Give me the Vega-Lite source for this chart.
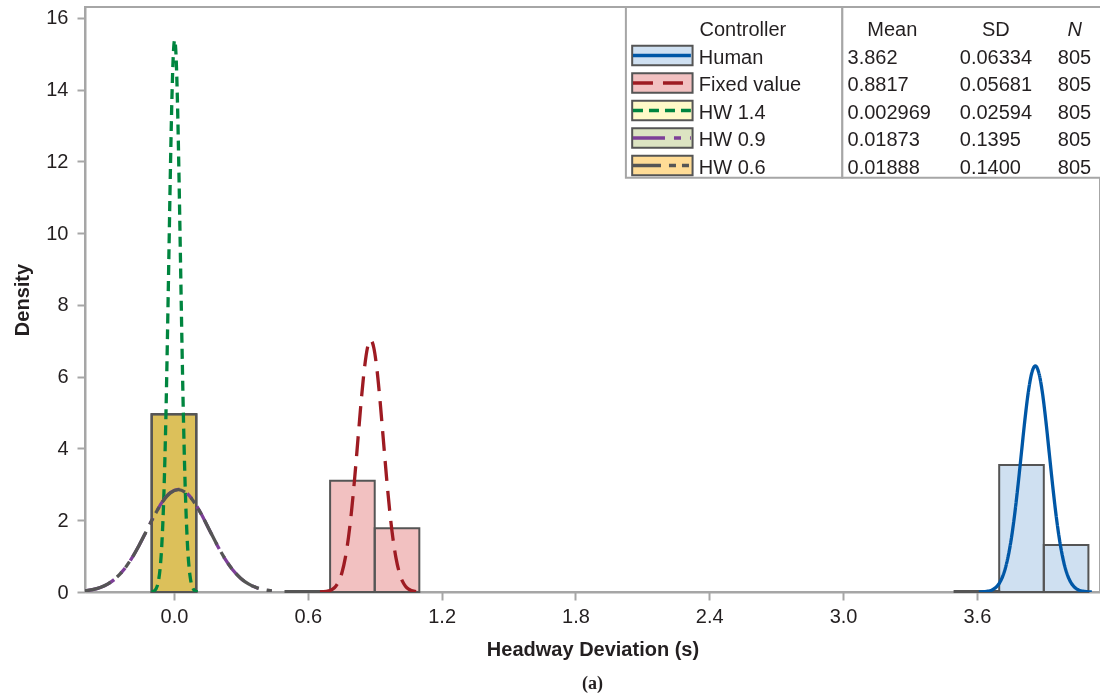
{
  "$schema": "https://vega.github.io/schema/vega-lite/v6.json",
  "width": 1015,
  "height": 585,
  "autosize": "none",
  "padding": {"left": 85, "top": 7, "right": 0, "bottom": 106},
  "title": {"text": "(a)", "orient": "bottom", "font": "Liberation Serif", "fontSize": 18, "fontWeight": "bold", "color": "#231f20", "offset": 16},
  "datasets": {
    "bars": [
      {"series": "Human", "x0": 3.5, "x1": 3.7, "density": 0.03},
      {"series": "Human", "x0": 3.7, "x1": 3.9, "density": 3.54},
      {"series": "Human", "x0": 3.9, "x1": 4.1, "density": 1.31},
      {"series": "Fixed value", "x0": 0.5, "x1": 0.7, "density": 0.03},
      {"series": "Fixed value", "x0": 0.7, "x1": 0.9, "density": 3.1},
      {"series": "Fixed value", "x0": 0.9, "x1": 1.1, "density": 1.775},
      {"series": "HW 1.4", "x0": -0.1, "x1": 0.1, "density": 4.95},
      {"series": "HW 0.9", "x0": -0.1, "x1": 0.1, "density": 4.95},
      {"series": "HW 0.6", "x0": -0.1, "x1": 0.1, "density": 4.95}
    ],
    "stats": [
      {"series": "Human", "mean": "3.862", "sd": "0.06334", "n": "805"},
      {"series": "Fixed value", "mean": "0.8817", "sd": "0.05681", "n": "805"},
      {"series": "HW 1.4", "mean": "0.002969", "sd": "0.02594", "n": "805"},
      {"series": "HW 0.9", "mean": "0.01873", "sd": "0.1395", "n": "805"},
      {"series": "HW 0.6", "mean": "0.01888", "sd": "0.1400", "n": "805"}
    ],
    "curves": [
      {"series": "Human", "x": 3.6086, "density": 0.002},
      {"series": "Human", "x": 3.6403, "density": 0.014},
      {"series": "Human", "x": 3.672, "density": 0.07},
      {"series": "Human", "x": 3.6878, "density": 0.144},
      {"series": "Human", "x": 3.7037, "density": 0.277},
      {"series": "Human", "x": 3.7195, "density": 0.501},
      {"series": "Human", "x": 3.7353, "density": 0.852},
      {"series": "Human", "x": 3.7512, "density": 1.362},
      {"series": "Human", "x": 3.767, "density": 2.045},
      {"series": "Human", "x": 3.7828, "density": 2.884},
      {"series": "Human", "x": 3.7987, "density": 3.82},
      {"series": "Human", "x": 3.8145, "density": 4.754},
      {"series": "Human", "x": 3.8303, "density": 5.558},
      {"series": "Human", "x": 3.8462, "density": 6.105},
      {"series": "Human", "x": 3.862, "density": 6.298},
      {"series": "Human", "x": 3.8778, "density": 6.105},
      {"series": "Human", "x": 3.8937, "density": 5.558},
      {"series": "Human", "x": 3.9095, "density": 4.754},
      {"series": "Human", "x": 3.9253, "density": 3.82},
      {"series": "Human", "x": 3.9412, "density": 2.884},
      {"series": "Human", "x": 3.957, "density": 2.045},
      {"series": "Human", "x": 3.9729, "density": 1.362},
      {"series": "Human", "x": 3.9887, "density": 0.852},
      {"series": "Human", "x": 4.0045, "density": 0.501},
      {"series": "Human", "x": 4.0204, "density": 0.277},
      {"series": "Human", "x": 4.0362, "density": 0.144},
      {"series": "Human", "x": 4.052, "density": 0.07},
      {"series": "Human", "x": 4.0837, "density": 0.014},
      {"series": "Human", "x": 4.1153, "density": 0.002},
      {"series": "Fixed value", "x": 0.6545, "density": 0.002},
      {"series": "Fixed value", "x": 0.6829, "density": 0.015},
      {"series": "Fixed value", "x": 0.7113, "density": 0.078},
      {"series": "Fixed value", "x": 0.7255, "density": 0.16},
      {"series": "Fixed value", "x": 0.7397, "density": 0.309},
      {"series": "Fixed value", "x": 0.7539, "density": 0.559},
      {"series": "Fixed value", "x": 0.7681, "density": 0.95},
      {"series": "Fixed value", "x": 0.7823, "density": 1.519},
      {"series": "Fixed value", "x": 0.7965, "density": 2.28},
      {"series": "Fixed value", "x": 0.8107, "density": 3.215},
      {"series": "Fixed value", "x": 0.8249, "density": 4.259},
      {"series": "Fixed value", "x": 0.8391, "density": 5.301},
      {"series": "Fixed value", "x": 0.8533, "density": 6.197},
      {"series": "Fixed value", "x": 0.8675, "density": 6.806},
      {"series": "Fixed value", "x": 0.8817, "density": 7.022},
      {"series": "Fixed value", "x": 0.8959, "density": 6.806},
      {"series": "Fixed value", "x": 0.9101, "density": 6.197},
      {"series": "Fixed value", "x": 0.9243, "density": 5.301},
      {"series": "Fixed value", "x": 0.9385, "density": 4.259},
      {"series": "Fixed value", "x": 0.9527, "density": 3.215},
      {"series": "Fixed value", "x": 0.9669, "density": 2.28},
      {"series": "Fixed value", "x": 0.9811, "density": 1.519},
      {"series": "Fixed value", "x": 0.9953, "density": 0.95},
      {"series": "Fixed value", "x": 1.0095, "density": 0.559},
      {"series": "Fixed value", "x": 1.0237, "density": 0.309},
      {"series": "Fixed value", "x": 1.0379, "density": 0.16},
      {"series": "Fixed value", "x": 1.0521, "density": 0.078},
      {"series": "Fixed value", "x": 1.0805, "density": 0.015},
      {"series": "Fixed value", "x": 1.1089, "density": 0.002},
      {"series": "HW 1.4", "x": -0.1008, "density": 0.005},
      {"series": "HW 1.4", "x": -0.0878, "density": 0.034},
      {"series": "HW 1.4", "x": -0.0749, "density": 0.171},
      {"series": "HW 1.4", "x": -0.0684, "density": 0.35},
      {"series": "HW 1.4", "x": -0.0619, "density": 0.676},
      {"series": "HW 1.4", "x": -0.0554, "density": 1.224},
      {"series": "HW 1.4", "x": -0.0489, "density": 2.081},
      {"series": "HW 1.4", "x": -0.0424, "density": 3.326},
      {"series": "HW 1.4", "x": -0.0359, "density": 4.993},
      {"series": "HW 1.4", "x": -0.0295, "density": 7.041},
      {"series": "HW 1.4", "x": -0.023, "density": 9.328},
      {"series": "HW 1.4", "x": -0.0165, "density": 11.609},
      {"series": "HW 1.4", "x": -0.01, "density": 13.572},
      {"series": "HW 1.4", "x": -0.0035, "density": 14.906},
      {"series": "HW 1.4", "x": 0.003, "density": 15.379},
      {"series": "HW 1.4", "x": 0.0095, "density": 14.906},
      {"series": "HW 1.4", "x": 0.0159, "density": 13.572},
      {"series": "HW 1.4", "x": 0.0224, "density": 11.609},
      {"series": "HW 1.4", "x": 0.0289, "density": 9.328},
      {"series": "HW 1.4", "x": 0.0354, "density": 7.041},
      {"series": "HW 1.4", "x": 0.0419, "density": 4.993},
      {"series": "HW 1.4", "x": 0.0484, "density": 3.326},
      {"series": "HW 1.4", "x": 0.0549, "density": 2.081},
      {"series": "HW 1.4", "x": 0.0613, "density": 1.224},
      {"series": "HW 1.4", "x": 0.0678, "density": 0.676},
      {"series": "HW 1.4", "x": 0.0743, "density": 0.35},
      {"series": "HW 1.4", "x": 0.0808, "density": 0.171},
      {"series": "HW 1.4", "x": 0.0938, "density": 0.034},
      {"series": "HW 1.4", "x": 0.1067, "density": 0.005},
      {"series": "HW 0.9", "x": -0.3998, "density": 0.032},
      {"series": "HW 0.9", "x": -0.3649, "density": 0.065},
      {"series": "HW 0.9", "x": -0.33, "density": 0.126},
      {"series": "HW 0.9", "x": -0.2951, "density": 0.228},
      {"series": "HW 0.9", "x": -0.2603, "density": 0.387},
      {"series": "HW 0.9", "x": -0.2254, "density": 0.618},
      {"series": "HW 0.9", "x": -0.1905, "density": 0.928},
      {"series": "HW 0.9", "x": -0.1556, "density": 1.309},
      {"series": "HW 0.9", "x": -0.1208, "density": 1.735},
      {"series": "HW 0.9", "x": -0.0859, "density": 2.159},
      {"series": "HW 0.9", "x": -0.051, "density": 2.524},
      {"series": "HW 0.9", "x": -0.0161, "density": 2.772},
      {"series": "HW 0.9", "x": 0.0187, "density": 2.86},
      {"series": "HW 0.9", "x": 0.0536, "density": 2.772},
      {"series": "HW 0.9", "x": 0.0885, "density": 2.524},
      {"series": "HW 0.9", "x": 0.1234, "density": 2.159},
      {"series": "HW 0.9", "x": 0.1582, "density": 1.735},
      {"series": "HW 0.9", "x": 0.1931, "density": 1.309},
      {"series": "HW 0.9", "x": 0.228, "density": 0.928},
      {"series": "HW 0.9", "x": 0.2629, "density": 0.618},
      {"series": "HW 0.9", "x": 0.2977, "density": 0.387},
      {"series": "HW 0.9", "x": 0.3326, "density": 0.228},
      {"series": "HW 0.9", "x": 0.3675, "density": 0.126},
      {"series": "HW 0.9", "x": 0.4024, "density": 0.065},
      {"series": "HW 0.9", "x": 0.4372, "density": 0.032},
      {"series": "HW 0.6", "x": -0.4011, "density": 0.032},
      {"series": "HW 0.6", "x": -0.3661, "density": 0.065},
      {"series": "HW 0.6", "x": -0.3311, "density": 0.125},
      {"series": "HW 0.6", "x": -0.2961, "density": 0.227},
      {"series": "HW 0.6", "x": -0.2611, "density": 0.386},
      {"series": "HW 0.6", "x": -0.2261, "density": 0.616},
      {"series": "HW 0.6", "x": -0.1911, "density": 0.925},
      {"series": "HW 0.6", "x": -0.1561, "density": 1.305},
      {"series": "HW 0.6", "x": -0.1211, "density": 1.728},
      {"series": "HW 0.6", "x": -0.0861, "density": 2.151},
      {"series": "HW 0.6", "x": -0.0511, "density": 2.515},
      {"series": "HW 0.6", "x": -0.0161, "density": 2.762},
      {"series": "HW 0.6", "x": 0.0189, "density": 2.85},
      {"series": "HW 0.6", "x": 0.0539, "density": 2.762},
      {"series": "HW 0.6", "x": 0.0889, "density": 2.515},
      {"series": "HW 0.6", "x": 0.1239, "density": 2.151},
      {"series": "HW 0.6", "x": 0.1589, "density": 1.728},
      {"series": "HW 0.6", "x": 0.1939, "density": 1.305},
      {"series": "HW 0.6", "x": 0.2289, "density": 0.925},
      {"series": "HW 0.6", "x": 0.2639, "density": 0.616},
      {"series": "HW 0.6", "x": 0.2989, "density": 0.386},
      {"series": "HW 0.6", "x": 0.3339, "density": 0.227},
      {"series": "HW 0.6", "x": 0.3689, "density": 0.125},
      {"series": "HW 0.6", "x": 0.4039, "density": 0.065},
      {"series": "HW 0.6", "x": 0.4389, "density": 0.032}
    ]
  },
  "layer": [
    {
      "layer": [
        {
          "data": {"values": [{"box": "controller"}]},
          "mark": {"type": "rect", "fill": "white", "stroke": "#a6a6a6", "strokeWidth": 2},
          "encoding": {
            "x": {"datum": 2.0262, "type": "quantitative", "title": "Headway Deviation (s)"},
            "x2": {"datum": 2.9967},
            "y": {"datum": 11.54, "type": "quantitative", "title": "Density"},
            "y2": {"datum": 16.3}
          }
        },
        {
          "data": {"values": [{"box": "stats"}]},
          "mark": {"type": "rect", "fill": "white", "stroke": "#a6a6a6", "strokeWidth": 2},
          "encoding": {
            "x": {"datum": 2.9967, "type": "quantitative", "title": "Headway Deviation (s)"},
            "x2": {"datum": 4.2},
            "y": {"datum": 11.54, "type": "quantitative", "title": "Density"},
            "y2": {"datum": 16.3}
          }
        },
        {
          "data": {"name": "bars"},
          "mark": {"type": "rect", "blend": "multiply"},
          "encoding": {
            "x": {"field": "x0", "type": "quantitative", "title": "Headway Deviation (s)",
                  "scale": {"domain": [-0.399, 4.152], "nice": false, "zero": false},
                  "axis": {"values": [0, 0.6, 1.2, 1.8, 2.4, 3.0, 3.6], "format": ".1f"}},
            "x2": {"field": "x1"},
            "y": {"field": "density", "type": "quantitative", "title": "Density",
                  "scale": {"domain": [0, 16.3], "nice": false, "zero": false},
                  "axis": {"values": [0, 2, 4, 6, 8, 10, 12, 14, 16]}},
            "y2": {"datum": 0},
            "fill": {"field": "series", "type": "nominal", "legend": null,
                     "scale": {"domain": ["Human", "Fixed value", "HW 1.4", "HW 0.9", "HW 0.6"],
                               "range": ["#cfe0f1", "#f2c1c1", "#fffac8", "#dce4c2", "#ffdc96"]}}
          }
        },
        {
          "data": {"name": "bars"},
          "mark": {"type": "rect", "fillOpacity": 0, "stroke": "#555555", "strokeWidth": 2},
          "encoding": {
            "x": {"field": "x0", "type": "quantitative", "title": "Headway Deviation (s)"},
            "x2": {"field": "x1"},
            "y": {"field": "density", "type": "quantitative", "title": "Density"},
            "y2": {"datum": 0}
          }
        },
        {
          "data": {"name": "curves"},
          "mark": {"type": "line", "strokeWidth": 3.3, "interpolate": "monotone", "clip": true},
          "encoding": {
            "x": {"field": "x", "type": "quantitative", "title": "Headway Deviation (s)"},
            "y": {"field": "density", "type": "quantitative", "title": "Density"},
            "detail": {"field": "series"},
            "stroke": {"field": "series", "type": "nominal", "legend": null,
                       "scale": {"domain": ["Human", "Fixed value", "HW 1.4", "HW 0.9", "HW 0.6"],
                                 "range": ["#0057a6", "#9e1b22", "#00853f", "#7d3f98", "#555555"]}},
            "strokeDash": {"field": "series", "type": "nominal", "legend": null,
                           "scale": {"domain": ["Human", "Fixed value", "HW 1.4", "HW 0.9", "HW 0.6"],
                                     "range": [[1, 0], [20, 10], [10, 6], [32, 9, 7, 9], [28, 8, 7, 6, 7, 6]]}}
          }
        }
      ]
    },
    {
      "layer": [
        {
          "data": {"name": "stats"},
          "mark": {"type": "rect", "stroke": "#555555", "strokeWidth": 2},
          "encoding": {
            "x": {"datum": 2.0544, "type": "quantitative", "axis": null},
            "x2": {"datum": 2.3252},
            "y": {"field": "series", "type": "nominal", "axis": null,
                  "scale": {"domain": ["header", "Human", "Fixed value", "HW 1.4", "HW 0.9", "HW 0.6"],
                            "range": [7.25, 172.25], "paddingInner": 0.298, "paddingOuter": 0.149}},
            "fill": {"field": "series", "type": "nominal", "legend": null}
          }
        },
        {
          "data": {"name": "stats"},
          "mark": {"type": "rule", "strokeWidth": 3.3},
          "encoding": {
            "x": {"datum": 2.058, "type": "quantitative", "axis": null},
            "x2": {"datum": 2.3176},
            "y": {"field": "series", "type": "nominal", "axis": null},
            "stroke": {"field": "series", "type": "nominal", "legend": null},
            "strokeDash": {"field": "series", "type": "nominal", "legend": null}
          }
        },
        {
          "data": {"name": "stats"},
          "mark": {"type": "text", "align": "left", "baseline": "middle", "dy": 2},
          "encoding": {
            "x": {"datum": 2.3534, "type": "quantitative", "axis": null},
            "y": {"field": "series", "type": "nominal", "axis": null},
            "text": {"field": "series"}
          }
        },
        {
          "data": {"name": "stats"},
          "mark": {"type": "text", "align": "left", "baseline": "middle", "dy": 2},
          "encoding": {
            "x": {"datum": 3.02, "type": "quantitative", "axis": null},
            "y": {"field": "series", "type": "nominal", "axis": null},
            "text": {"field": "mean"}
          }
        },
        {
          "data": {"name": "stats"},
          "mark": {"type": "text", "align": "left", "baseline": "middle", "dy": 2},
          "encoding": {
            "x": {"datum": 3.5234, "type": "quantitative", "axis": null},
            "y": {"field": "series", "type": "nominal", "axis": null},
            "text": {"field": "sd"}
          }
        },
        {
          "data": {"name": "stats"},
          "mark": {"type": "text", "align": "left", "baseline": "middle", "dy": 2},
          "encoding": {
            "x": {"datum": 3.9627, "type": "quantitative", "axis": null},
            "y": {"field": "series", "type": "nominal", "axis": null},
            "text": {"field": "n"}
          }
        },
        {
          "data": {"values": [{"series": "header", "label": "Controller"}]},
          "mark": {"type": "text", "align": "center", "baseline": "middle", "dy": 2},
          "encoding": {
            "x": {"datum": 2.5507, "type": "quantitative", "axis": null},
            "y": {"field": "series", "type": "nominal", "axis": null},
            "text": {"field": "label"}
          }
        },
        {
          "data": {"values": [{"series": "header", "label": "Mean"}]},
          "mark": {"type": "text", "align": "center", "baseline": "middle", "dy": 2},
          "encoding": {
            "x": {"datum": 3.2208, "type": "quantitative", "axis": null},
            "y": {"field": "series", "type": "nominal", "axis": null},
            "text": {"field": "label"}
          }
        },
        {
          "data": {"values": [{"series": "header", "label": "SD"}]},
          "mark": {"type": "text", "align": "center", "baseline": "middle", "dy": 2},
          "encoding": {
            "x": {"datum": 3.6848, "type": "quantitative", "axis": null},
            "y": {"field": "series", "type": "nominal", "axis": null},
            "text": {"field": "label"}
          }
        },
        {
          "data": {"values": [{"series": "header", "label": "N"}]},
          "mark": {"type": "text", "align": "center", "baseline": "middle", "dy": 2, "fontStyle": "italic"},
          "encoding": {
            "x": {"datum": 4.039, "type": "quantitative", "axis": null},
            "y": {"field": "series", "type": "nominal", "axis": null},
            "text": {"field": "label"}
          }
        }
      ]
    }
  ],
  "resolve": {"scale": {"y": "independent"}, "axis": {"x": "independent", "y": "independent"}},
  "config": {
    "view": {"stroke": "#a6a6a6", "strokeWidth": 2},
    "font": "Liberation Sans",
    "axis": {
      "labelFont": "Liberation Sans", "labelFontSize": 20, "labelColor": "#231f20",
      "titleFont": "Liberation Sans", "titleFontSize": 20, "titleFontWeight": "bold", "titleColor": "#231f20",
      "domainColor": "#a6a6a6", "domainWidth": 2, "tickColor": "#a6a6a6", "tickWidth": 2, "tickSize": 8,
      "grid": false
    },
    "axisX": {"titlePadding": 13, "labelPadding": 6},
    "axisY": {"titlePadding": 13, "labelPadding": 9},
    "text": {"font": "Liberation Sans", "fontSize": 20, "color": "#231f20"}
  }
}
